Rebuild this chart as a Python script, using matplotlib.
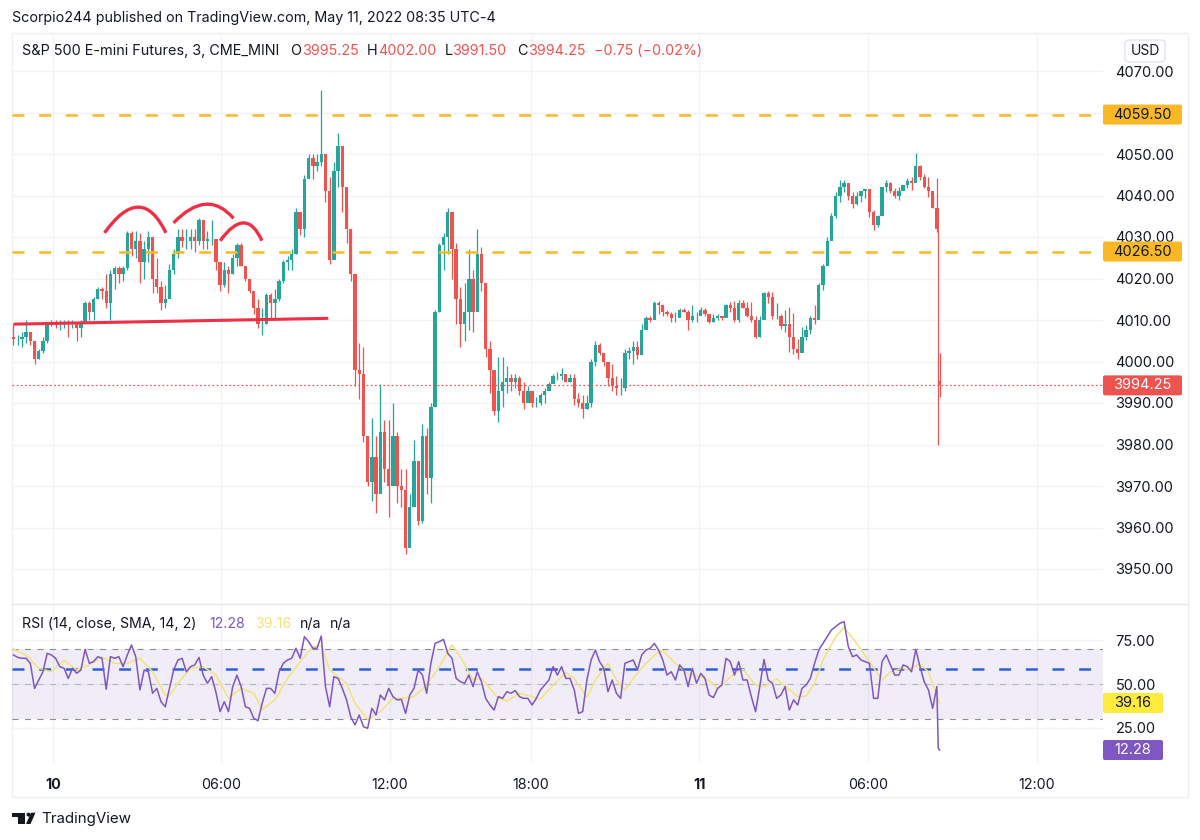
import matplotlib
matplotlib.use('Agg')
import matplotlib.pyplot as plt
import numpy as np
from matplotlib.patches import FancyBboxPatch, PathPatch, Polygon, Circle, Rectangle
from matplotlib.path import Path
from matplotlib.transforms import IdentityTransform

plt.rcParams['font.family'] = ['Inter', 'DejaVu Sans']
plt.rcParams['lines.scale_dashes'] = False

closes = [
    4005.5, 4005.5, 4006, 4007, 4005, 4000.5, 4002.5, 4005, 4009, 4009.5,
    4009, 4009, 4009.5, 4009, 4009, 4008, 4009.5, 4014, 4012, 4015,
    4017.5, 4017, 4014, 4021, 4022.5, 4021, 4022.5, 4031, 4027, 4029,
    4024, 4027, 4030, 4020, 4018, 4014, 4015, 4022, 4026, 4030,
    4029, 4029, 4030, 4029, 4034, 4029, 4029.5, 4029.5, 4024, 4018.5,
    4022, 4021, 4025, 4028, 4023, 4020, 4017, 4013, 4009, 4009,
    4016, 4014, 4015, 4019.5, 4024, 4024.5, 4026, 4036, 4032, 4044,
    4049, 4047, 4048, 4050, 4041, 4024.5, 4046, 4052, 4042, 4032,
    4021, 3998, 3997, 3982, 3971, 3977, 3968, 3983, 3974, 3970,
    3982, 3970, 3969, 3955, 3965, 3976, 3961.5, 3982, 3972, 3989,
    4012, 4028, 4030, 4036, 4027, 4015, 4009, 4012, 4020, 4012,
    4026, 4019, 4003, 3998, 3988, 3993, 3995, 3996, 3995, 3996,
    3993, 3990, 3993, 3990, 3990, 3992, 3993, 3994.5, 3996.5, 3996.5,
    3997, 3995, 3996, 3991, 3990, 3988.5, 3990, 4000, 4004, 4002,
    4000, 3996, 3994, 3993.5, 3993.5, 4002, 4002.5, 4003.5, 4001.5, 4007.5,
    4010.5, 4010, 4014, 4013.5, 4012, 4011.5, 4010.5, 4010.5, 4012.5, 4012,
    4010, 4011, 4011, 4012.5, 4011.5, 4009.5, 4010.5, 4011, 4010.5, 4013.5,
    4013, 4010, 4014, 4013, 4011, 4010, 4006, 4010, 4016.5, 4015.5,
    4011, 4011, 4008.5, 4009, 4006, 4003, 4002, 4006, 4007.5, 4010.5,
    4010, 4018.5, 4023, 4029, 4035, 4040, 4042, 4043, 4040, 4038,
    4040, 4041, 4041.5, 4036, 4033, 4035, 4042, 4043, 4041, 4040,
    4041, 4042.5, 4043.5, 4043, 4047, 4044.5, 4042, 4041, 4037, 4032,
    3995.25, 3994.25,
]
highs = [
    4009, 4006.5, 4007, 4010, 4007, 4005, 4003, 4006, 4009.5, 4010,
    4010, 4010, 4010, 4010, 4010, 4009.5, 4010, 4014.5, 4014.5, 4015.5,
    4018, 4018, 4021, 4022, 4023, 4023, 4023, 4031.5, 4031.5, 4031.5,
    4031, 4029, 4031.5, 4027.5, 4025, 4019.5, 4018.5, 4023.5, 4027, 4032,
    4032, 4032, 4032, 4032, 4034.5, 4033.5, 4031.5, 4034, 4029.5, 4021.5,
    4024, 4023, 4026, 4028.5, 4028.5, 4023, 4020, 4016, 4015, 4013,
    4016.5, 4016.5, 4017.5, 4020, 4024.5, 4025.5, 4027, 4037, 4035, 4045,
    4050, 4050, 4050, 4065.5, 4050, 4044.5, 4048, 4055, 4046.5, 4038,
    4032, 4019.5, 4004.5, 4003.5, 3982, 3986.5, 3982, 3994.5, 3986, 3986,
    3990, 3983, 3974, 3974, 3968, 3981, 3968, 3985, 3984, 3990,
    4012.5, 4028.5, 4031, 4037, 4036, 4028.5, 4018, 4019, 4027, 4022,
    4032, 4027.5, 4019, 4005, 3997, 4001, 4001, 3999, 3997, 3997,
    3996.5, 3995, 3994, 3992.5, 3991.5, 3992.5, 3993.5, 3995, 3997, 3997.5,
    3998.5, 3997, 3997, 3997, 3992.5, 3992, 3992, 4000.5, 4005, 4004.5,
    4002, 3999.5, 3999.5, 3996.5, 3996, 4003, 4003.5, 4005, 4005, 4009,
    4011, 4011, 4014.5, 4014.5, 4013.5, 4012.5, 4012, 4012, 4013, 4013,
    4012.4, 4013.6, 4012, 4013.2, 4012.8, 4011.5, 4011.4, 4011.5, 4011, 4013.8,
    4014.4, 4014.6, 4014.8, 4014.8, 4014.4, 4014.4, 4011, 4011, 4016.8, 4017,
    4016.8, 4014, 4011.5, 4012.4, 4013.2, 4011.7, 4005.5, 4008.3, 4008.7, 4011,
    4013.6, 4018.8, 4023.6, 4030, 4035.7, 4040.9, 4043.7, 4043.7, 4042.9, 4040.9,
    4040.9, 4040.9, 4041.3, 4040.1, 4036.5, 4035.3, 4042.1, 4043.7, 4043.3, 4041.7,
    4042.1, 4042.5, 4044.1, 4044.5, 4050.3, 4047.3, 4045.3, 4044.5, 4040.1, 4044.1,
    4031.5, 4002,
]
lows = [
    4004, 4004, 4003.5, 4004.5, 4004, 3999.5, 4000.5, 4002, 4004.5, 4008.5,
    4008, 4007.5, 4008, 4006, 4008, 4005, 4006, 4009.5, 4010, 4010,
    4015, 4015, 4013, 4010, 4017.5, 4019, 4019.5, 4022, 4025.5, 4025,
    4019, 4020, 4024, 4016.5, 4016.5, 4012.5, 4013, 4018, 4021, 4025,
    4027.5, 4027, 4027, 4026.5, 4028, 4027, 4027, 4028, 4022, 4017,
    4018, 4016.5, 4021, 4023, 4023, 4019.5, 4016.5, 4011.5, 4008, 4006.5,
    4009, 4010, 4010, 4014.5, 4019, 4022, 4022, 4026, 4030.5, 4030,
    4044.5, 4044, 4046, 4047, 4038.5, 4023.5, 4027.5, 4042, 4036, 4028.5,
    4019.5, 3994, 3991, 3980.5, 3970, 3966.5, 3963.5, 3972, 3971, 3962.5,
    3972, 3966, 3965, 3953.5, 3957.5, 3966.5, 3960.5, 3961, 3968, 3966,
    3990, 4012, 4022, 4026, 4020, 4009, 4003.5, 4005, 4007.5, 4007,
    4013, 4017, 4001, 3992.5, 3987, 3985.5, 3989, 3992.5, 3993, 3993.5,
    3992, 3988.5, 3991, 3989, 3989, 3989.5, 3990, 3993.5, 3995.5, 3995.5,
    3995.5, 3995, 3995, 3989.5, 3989, 3986.5, 3988.5, 3989, 3999, 4001.5,
    3999, 3994, 3993, 3992, 3992, 3993, 4000.5, 3999.5, 4000.5, 4006,
    4009, 4009.5, 4011, 4011.5, 4011, 4011, 4009.5, 4009.5, 4011, 4012,
    4007.5, 4009.5, 4009.5, 4011.5, 4011, 4009.3, 4009.5, 4010, 4010, 4010.7,
    4012, 4009.5, 4009.5, 4012.8, 4010.7, 4009.5, 4005.7, 4005.9, 4011.5, 4014,
    4010.3, 4010.3, 4007.9, 4007.1, 4002.3, 4001.9, 4000.7, 4003.1, 4005.1, 4006.7,
    4009.1, 4010.7, 4017.2, 4023.6, 4029.2, 4034.5, 4038.5, 4040.9, 4038.9, 4036.9,
    4037.7, 4038.5, 4039.3, 4034.9, 4031.7, 4032.5, 4035.3, 4040.9, 4040.5, 4039.3,
    4038.9, 4041.3, 4041.7, 4041.3, 4045.7, 4043.7, 4041.7, 4039.7, 4036.9, 4031.3,
    3980, 3991.5,
]
first_open = 4006

rsi = [
    66.6, 65.2, 64.7, 64.7, 61.8, 47.5, 52.3, 57, 67.5, 66.6,
    64.7, 59.9, 59, 53.2, 59, 56.1, 58, 69.8, 61.8, 62.8,
    65.6, 64.7, 47, 65.6, 64.7, 65.6, 59.9, 66.6, 72.3, 65.6,
    46.6, 58, 57, 44.7, 47.5, 39.9, 37, 47.5, 58, 63.7,
    64.7, 57, 59.9, 60.9, 65.2, 55.1, 50.4, 54.2, 45.6, 34.2,
    39.9, 34.2, 48.5, 55.1, 48.5, 37, 36.1, 30.4, 29, 39,
    47.5, 47.5, 44.7, 57, 61.8, 63.7, 64.7, 70.4, 64.7, 77,
    74.2, 70.4, 70.4, 77.4, 48.5, 37, 54.2, 53.2, 47.5, 40.9,
    31.3, 26.6, 32.3, 25.6, 24.7, 36.1, 32.3, 43.7, 40.9, 47.5,
    42.8, 40.9, 41.2, 33.2, 43.7, 47.5, 58, 55.1, 44.7, 61.8,
    73.2, 74.2, 75.5, 67.5, 64.7, 53.2, 51.3, 50.4, 55.1, 48.5,
    57, 51.3, 41.8, 38, 35.1, 42.8, 41.8, 45.6, 44.7, 46.2,
    42.8, 41.8, 41.8, 38, 41.8, 46.6, 49.4, 52.3, 59.9, 55.1,
    59.9, 53.2, 53.2, 46.6, 33.2, 34.2, 52.3, 63.7, 69.4, 62.8,
    59, 45.6, 52.3, 44.7, 41.8, 61.8, 62.8, 63.7, 58, 66.6,
    69.4, 70.4, 73.2, 69.4, 63.7, 55.1, 57, 52.3, 60.9, 58,
    48.5, 59, 50.4, 56.1, 53.2, 43.7, 42.2, 47.5, 49.4, 64.7,
    62.8, 55.1, 62.8, 52.3, 52.3, 42.8, 34.2, 48.5, 64.1, 52.3,
    50.4, 41.8, 43.7, 48.5, 35.1, 40.9, 38, 47.5, 49.4, 53.2,
    61.8, 69.4, 73.2, 77, 80.9, 82.8, 84.7, 85.6, 71.3, 65.6,
    66.6, 63.7, 62.8, 61.8, 41.8, 41.8, 62.8, 66.6, 60.9, 55.1,
    55.1, 60.9, 59.9, 57, 69.8, 59.9, 51.3, 46.6, 36.1, 48.5,
    13.2, 12.28,
]
# the RSI average is a smooth line, so it is read at fewer candles
sma_idx = [0, 3, 6, 9, 12, 15, 18, 21, 24, 27, 30, 33, 36, 37, 39, 42, 45, 48, 51, 54, 57, 59,
           62, 65, 68, 71, 73, 75, 79, 81, 84, 87, 90, 92, 95, 98, 101, 104, 106, 109, 111,
           115, 117, 120, 123, 125, 128, 131, 133, 136, 138, 141, 143, 145, 147, 150, 153, 154,
           157, 160, 163, 166, 167, 171, 173, 176, 178, 181, 183, 186, 188, 190, 192, 195, 197,
           200, 203, 206, 208, 211, 212, 215, 217, 221]
sma = [70, 66.6, 59, 57, 63.7, 58, 60.9, 65.6, 61.8, 61.8, 64.7, 57, 43.7, 43.3, 50.4, 59, 59.9, 55.1,
       41.8, 47.5, 44.7, 35.5, 40.9, 53.2, 62.8, 71.3, 71.7, 58, 50.4, 39, 29.8, 34.2, 41.8, 41.8,
       42.8, 49.4, 59.9, 72.3, 65.6, 52.3, 53.2, 41.8, 40.3, 44.7, 42.8, 41.4, 49.4, 56.5, 53.2,
       42.4, 52.3, 61.8, 52.3, 46.6, 53.2, 61.8, 68.5, 69, 61.8, 55.7, 54.2, 50.4, 47, 56.1, 58.4,
       49.4, 48.5, 53, 48.9, 42.8, 43.1, 50.4, 63.7, 77, 82.4, 73.2, 62.8, 52.3, 57, 59, 58, 61.4,
       57, 39.16]

price_ticks = [4070, 4060, 4050, 4040, 4030, 4020, 4010, 4000, 3990, 3980, 3970, 3960, 3950]
price_labels = ['4070.00', '', '4050.00', '4040.00', '4030.00', '4020.00', '4010.00', '4000.00',
                '3990.00', '3980.00', '3970.00', '3960.00', '3950.00']
rsi_ticks = [75, 50, 25]
rsi_labels = ['75.00', '50.00', '25.00']
time_ticks = [0, 120, 240, 340, 460, 580, 700]  # in 3 min bars from May 10 00:00 (17:00-18:00 closed)
time_labels = ['10', '06:00', '12:00', '18:00', '11', '06:00', '12:00']

levels = [4059.5, 4026.5]
last_price = 3994.25
blue_level = 58.6

# hand drawn head and shoulders: start, control, end as (bar, price)
arcs = [
    [(36.8, 4031.0), (62.95, 4043.4), (80.5, 4031.0)],
    [(85.9, 4033.4), (109.75, 4041.85), (128.6, 4034.5)],
    [(119.1, 4029.1), (137.45, 4037.7), (148.8, 4029.1)],
]
neckline_x = [-28, 196]
neckline_y = [4009.0, 4010.4]

W, H = 1200, 840
TEXT = '#131722'
RED = '#ef5350'
TEAL = '#26a69a'
GRID = '#f1f3f6'
GOLD = '#f9b824'
PURPLE = '#7e57c2'


def pane(y_top, y_bottom):
    return fig.add_axes([12 / W, 1 - y_bottom / H, (1103 - 12) / W, (y_bottom - y_top) / H])


fig = plt.figure(figsize=(W / 100, H / 100), dpi=100, facecolor='white')
ax = pane(33, 604)
ax2 = pane(604, 763)

# x scale: 1.4055 px per bar, the "10" tick sits at px 52.8
xlim = ((12 - 52.8) / 1.4055, (1103 - 52.8) / 1.4055)
x = np.array(list(range(-28, 630, 3)) + [630, 631])
closes = np.array(closes)
highs = np.array(highs)
lows = np.array(lows)
opens = np.r_[first_open, closes[:-1]]

for a in (ax, ax2):
    a.set_xlim(xlim)
    a.patch.set_alpha(0)
    for s in a.spines.values():
        s.set_visible(False)
    a.grid(True, color=GRID, lw=1)
    a.set_axisbelow(True)
    a.set_xticks(time_ticks)
    a.yaxis.tick_right()
    a.tick_params(length=0, labelcolor=TEXT, labelsize=10.5, pad=9)

ax.set_ylim(4050 - 450 / 4.15, 4050 + 121 / 4.15)
ax.set_yticks(price_ticks, price_labels)
ax.tick_params(axis='x', labelbottom=False)

# candles
colors = np.where(closes >= opens, TEAL, RED)
widths = np.r_[np.full(len(x) - 2, 2.4), [0.9, 0.9]]
ax.vlines(x, lows, highs, colors=colors, lw=0.9, zorder=3)
ax.bar(x, np.abs(closes - opens), bottom=np.minimum(opens, closes), width=widths, color=colors, lw=0, zorder=3)

# levels and drawings
for lv in levels:
    ax.plot(xlim, [lv, lv], color=GOLD, lw=1.8, ls=(0, (8.6, 10.6)), dash_capstyle='butt', zorder=4)
ax.plot(xlim, [last_price, last_price], color=RED, lw=0.9, ls=(0, (1.2, 1.8)), zorder=4)
ax.plot(neckline_x, neckline_y, color='#ee2f45', lw=2.2, zorder=5, solid_capstyle='butt')
for arc in arcs:
    path = Path(arc, [Path.MOVETO, Path.CURVE3, Path.CURVE3])
    ax.add_patch(PathPatch(path, fc='none', ec='#ee2f45', lw=2.4, capstyle='butt', zorder=5))

# RSI pane
ax2.set_ylim(50 - 79 / 1.75, 50 + 80 / 1.75)
ax2.set_yticks(rsi_ticks, rsi_labels)
ax2.set_xticklabels(time_labels)
ax2.tick_params(axis='x', pad=11, labelsize=10.3)
for t, lab in zip(ax2.get_xticklabels(), time_labels):
    if lab in ('10', '11'):
        t.set_fontweight('bold')
ax2.axhspan(30, 70, color=PURPLE, alpha=0.1, lw=0, zorder=1)
for lv, col in ((70, '#8a8d96'), (50, '#b4b6bd'), (30, '#8a8d96')):
    ax2.plot(xlim, [lv, lv], color=col, lw=0.8, ls=(0, (4.3, 4.7)), zorder=2)
ax2.plot(xlim, [blue_level, blue_level], color='#2f5fdc', lw=1.8, ls=(0, (8.6, 10.6)), dash_capstyle='butt', zorder=2)
ax2.plot(x[sma_idx], sma, color='#f3e27a', lw=1.1, zorder=3)
ax2.plot(x, rsi, color=PURPLE, lw=1.1, zorder=4)


def px_text(px, py, s, **kw):
    kw.setdefault('color', TEXT)
    kw.setdefault('fontsize', 10.3)
    kw.setdefault('va', 'center')
    return fig.text(px / W, 1 - py / H, s, **kw)


def tag(a, value, label, bg, fg, width):
    # value tag on the price scale, its height follows the axis value
    fig.canvas.draw()
    yd = a.transData.transform((0, value))[1]
    fig.add_artist(FancyBboxPatch((1103, yd - 10), width, 20, boxstyle='round,pad=0,rounding_size=2',
                                  transform=IdentityTransform(), fc=bg, ec='none', zorder=6))
    t = fig.text(1103 + width / 2, yd, label, transform=IdentityTransform(), color=fg, fontsize=10.5,
                 ha='center', va='center', zorder=7)
    return t


tag(ax, levels[0], '4059.50', GOLD, TEXT, 79)
tag(ax, levels[1], '4026.50', GOLD, TEXT, 79)
tag(ax, last_price, '3994.25', RED, 'white', 79)
tag(ax2, sma[-1], '39.16', '#ffeb3b', TEXT, 60)
tag(ax2, rsi[-1], '12.28', PURPLE, 'white', 60)

# frame
fig.add_artist(Rectangle((12, H - 797), 1176, 764, transform=IdentityTransform(), fc='none', ec='#eeeff2', lw=1, zorder=0))
fig.add_artist(plt.Line2D([12, 1188], [H - 604, H - 604], transform=IdentityTransform(), color='#e6e8ec', lw=1))

# header texts
px_text(12, 18, 'Scorpio244 published on TradingView.com, May 11, 2022 08:35 UTC-4', fontsize=10.3)
px_text(22, 51, 'S&P 500 E-mini Futures, 3, CME_MINI', fontsize=10.4)
for px, s in ((290, 'O'), (367, 'H'), (445, 'L'), (517, 'C')):
    px_text(px, 51, s, fontsize=10.3)
for px, s in ((302, '3995.25'), (378, '4002.00'), (452, '3991.50'), (528, '3994.25'), (594, '\u22120.75 (\u22120.02%)')):
    px_text(px, 51, s, fontsize=10.3, color=RED)
px_text(22, 624, 'RSI (14, close, SMA, 14, 2)', fontsize=10.2)
px_text(209, 624, '12.28', fontsize=10.2, color=PURPLE)
px_text(255, 624, '39.16', fontsize=10.2, color='#f3e27a')
px_text(300, 624, 'n/a', fontsize=10.2)
px_text(330, 624, 'n/a', fontsize=10.2)

# USD button
fig.add_artist(FancyBboxPatch((1125, H - 62), 40, 22, boxstyle='round,pad=0,rounding_size=4',
                              transform=IdentityTransform(), fc='white', ec='#e0e3eb', lw=1))
px_text(1145, 51, 'USD', ha='center', fontsize=10)

# footer logo
id_t = IdentityTransform()
fig.add_artist(Polygon([(12.3, H - 812.7), (25, H - 812.7), (25, H - 824), (17.5, H - 824), (17.5, H - 816.5), (12.3, H - 816.5)],
                       transform=id_t, fc=TEXT, ec='none'))
fig.add_artist(Circle((28.5, H - 814.6), 2, transform=id_t, fc=TEXT, ec='none'))
fig.add_artist(Polygon([(31, H - 812.7), (35.5, H - 812.7), (30.5, H - 824), (26, H - 824)], transform=id_t, fc=TEXT, ec='none'))
px_text(41, 819.5, 'TradingView', fontsize=10.9)

fig.savefig('out.png', dpi=100)
